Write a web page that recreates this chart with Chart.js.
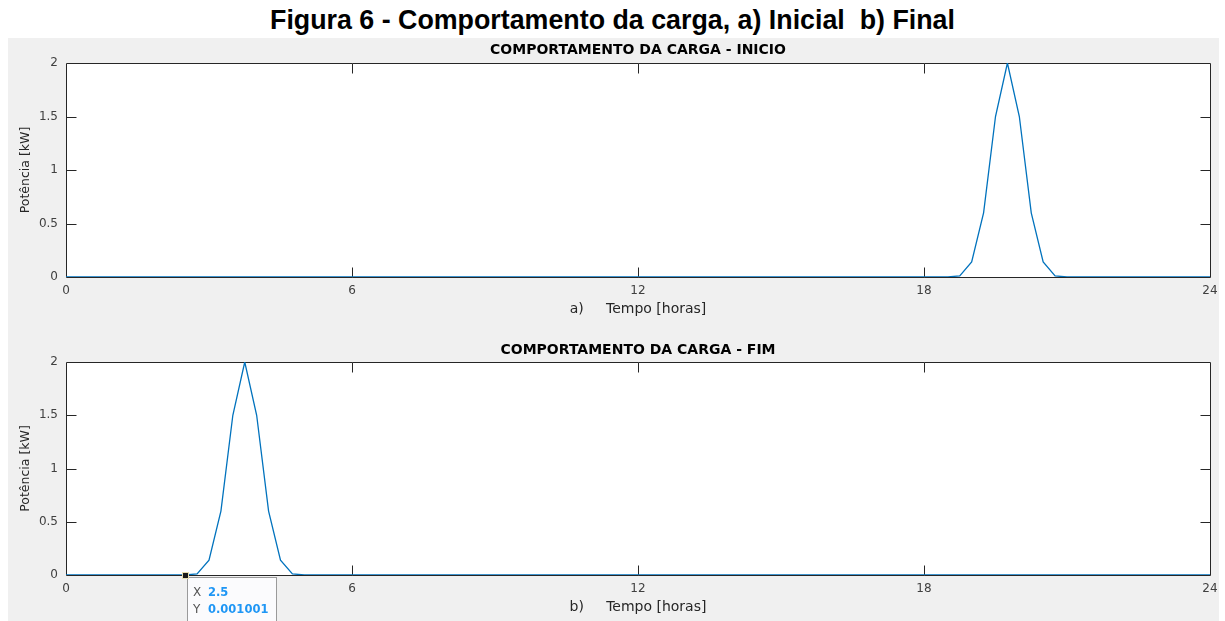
<!DOCTYPE html>
<html>
<head>
<meta charset="utf-8">
<title>Comportamento da carga</title>
<script src="https://cdn.jsdelivr.net/npm/chart.js@4.4.1/dist/chart.umd.min.js"></script>
<style>
  html, body { margin: 0; padding: 0; background: #ffffff; width: 1225px; height: 621px; overflow: hidden; }
  #heading {
    position: absolute; left: 0; top: 5px; width: 1225px; text-align: center;
    font: bold 26.8px "Liberation Sans", Arial, sans-serif; color: #000;
    white-space: pre;
  }
  #panel { position: absolute; left: 8px; top: 38px; width: 1211px; height: 583px; background: #f0f0f0; overflow: hidden; }
  #panel canvas { position: absolute; left: 0; }
</style>
</head>
<body>
<div id="heading">Figura 6 - Comportamento da carga, a) Inicial  b) Final</div>
<div id="panel">
  <canvas id="chartStart" width="1211" height="292" style="top:0"></canvas>
  <canvas id="chartEnd" width="1211" height="291" style="top:292px"></canvas>
</div>
<script>
// Load profile, hours of the day vs. power in kW
const startHours = [0, 18.5, 18.75, 19, 19.25, 19.5, 19.75, 20, 20.25, 20.5, 20.75, 21, 24];
const startPower = [0, 0.001001, 0.01, 0.14, 0.6, 1.5, 2, 1.5, 0.6, 0.14, 0.01, 0.001001, 0];
const endHours = [0, 2.5, 2.75, 3, 3.25, 3.5, 3.75, 4, 4.25, 4.5, 4.75, 5, 24];
const endPower = [0, 0.001001, 0.01, 0.14, 0.6, 1.5, 2, 1.5, 0.6, 0.14, 0.01, 0.001001, 0];
const hourTicks = [0, 6, 12, 18, 24];
const powerTicks = [0, 0.5, 1, 1.5, 2];
const dataTip = { x: 2.5, y: 0.001001 };

const AXIS = '#262626';
const LABEL = '#404040';
const LINE = '#0072BD';
const FONT = '"DejaVu Sans", "Liberation Sans", Arial, sans-serif';

// Boxed axes with inward tick marks, subplot heading and optional data tip
const framePlugin = {
  id: 'frame',
  beforeDatasetsDraw(chart, args, opts) {
    const { ctx, chartArea: a, scales: { x, y } } = chart;
    const L = Math.round(a.left) + 0.5, R = Math.round(a.right) + 0.5;
    const T = Math.round(a.top) + 0.5, B = Math.round(a.bottom) + 0.5;
    ctx.save();
    ctx.fillStyle = '#ffffff';
    ctx.fillRect(L, T, R - L, B - T);
    ctx.strokeStyle = AXIS;
    ctx.lineWidth = 1;
    ctx.beginPath();
    ctx.rect(L, T, R - L, B - T);
    const len = 10;
    hourTicks.forEach(h => {
      const px = Math.round(x.getPixelForValue(h)) + 0.5;
      if (px <= L + 1 || px >= R - 1) return;
      ctx.moveTo(px, B); ctx.lineTo(px, B - len);
      ctx.moveTo(px, T); ctx.lineTo(px, T + len);
    });
    powerTicks.forEach(v => {
      const py = Math.round(y.getPixelForValue(v)) + 0.5;
      if (py <= T + 1 || py >= B - 1) return;
      ctx.moveTo(L, py); ctx.lineTo(L + len, py);
      ctx.moveTo(R, py); ctx.lineTo(R - len, py);
    });
    ctx.stroke();
    ctx.restore();
  },
  afterDraw(chart, args, opts) {
    const { ctx, chartArea: a, scales: { x, y } } = chart;
    ctx.save();
    ctx.fillStyle = '#000000';
    ctx.font = 'bold 14px ' + FONT;
    ctx.textAlign = 'center';
    ctx.textBaseline = 'middle';
    ctx.fillText(opts.heading, (a.left + a.right) / 2, a.top - opts.headingGap);

    if (opts.tip) {
      const px = Math.round(x.getPixelForValue(opts.tip.x));
      const py = Math.round(y.getPixelForValue(opts.tip.y));
      // tip box
      ctx.fillStyle = '#fbfbfd';
      ctx.fillRect(px + 2, py + 2, 89, 60);
      ctx.strokeStyle = '#9a9a9a';
      ctx.lineWidth = 1;
      ctx.strokeRect(px + 2.5, py + 2.5, 89, 60);
      // marker
      ctx.fillStyle = '#e8dfb0';
      ctx.fillRect(px - 3, py - 3, 7, 7);
      ctx.fillStyle = '#1a1a1a';
      ctx.fillRect(px - 2, py - 2, 5, 5);
      // text
      ctx.textAlign = 'left';
      ctx.textBaseline = 'middle';
      ctx.font = '12px ' + FONT;
      ctx.fillStyle = '#555555';
      ctx.fillText('X', px + 8, py + 18);
      ctx.fillText('Y', px + 8, py + 35);
      ctx.font = 'bold 11.5px ' + FONT;
      ctx.fillStyle = '#1e96f5';
      ctx.fillText(String(opts.tip.x), px + 23, py + 18);
      ctx.fillText(String(opts.tip.y), px + 23, py + 35);
    }
    ctx.restore();
  }
};

function makeChart(id, hours, power, cfg) {
  return new Chart(document.getElementById(id), {
    type: 'line',
    data: {
      datasets: [{
        data: hours.map((h, i) => ({ x: h, y: power[i] })),
        borderColor: LINE,
        borderWidth: 1.3,
        pointRadius: 0,
        tension: 0,
        fill: false
      }]
    },
    options: {
      responsive: false,
      animation: false,
      devicePixelRatio: 1,
      layout: { padding: { top: cfg.top, right: 9, left: 0, bottom: 0 } },
      plugins: {
        legend: { display: false },
        tooltip: { enabled: false },
        title: { display: false },
        frame: { heading: cfg.heading, headingGap: cfg.headingGap, tip: cfg.tip || null }
      },
      scales: {
        x: {
          type: 'linear', min: 0, max: 24,
          afterBuildTicks: s => { s.ticks = hourTicks.map(v => ({ value: v })); },
          afterFit: s => { s.height = cfg.xHeight; s.paddingLeft = 0; s.paddingRight = 0; },
          grid: { display: false, drawTicks: false },
          border: { display: false },
          ticks: { padding: 7, color: LABEL, font: { family: FONT, size: 12 }, callback: v => String(v), maxRotation: 0 },
          title: { display: true, text: cfg.xTitle, color: AXIS, font: { family: FONT, size: 14 }, padding: { top: 0, bottom: cfg.xTitlePad } }
        },
        y: {
          type: 'linear', min: 0, max: 2,
          afterBuildTicks: s => { s.ticks = powerTicks.map(v => ({ value: v })); },
          afterFit: s => { s.width = 58; s.paddingTop = 0; s.paddingBottom = 0; },
          grid: { display: false, drawTicks: false },
          border: { display: false },
          ticks: { padding: 8, color: LABEL, font: { family: FONT, size: 12 }, callback: v => String(v) },
          title: { display: true, text: 'Potência [kW]', color: AXIS, font: { family: FONT, size: 12.5 }, padding: { top: 10, bottom: 0 } }
        }
      }
    },
    plugins: [framePlugin]
  });
}

makeChart('chartStart', startHours, startPower, {
  top: 25, xHeight: 53, xTitlePad: 12.6,
  heading: 'COMPORTAMENTO DA CARGA - INICIO', headingGap: 13,
  xTitle: 'a)     Tempo [horas]'
});
makeChart('chartEnd', endHours, endPower, {
  top: 32, xHeight: 46, xTitlePad: 5.6,
  heading: 'COMPORTAMENTO DA CARGA - FIM', headingGap: 12,
  xTitle: 'b)     Tempo [horas]',
  tip: dataTip
});
</script>
</body>
</html>
